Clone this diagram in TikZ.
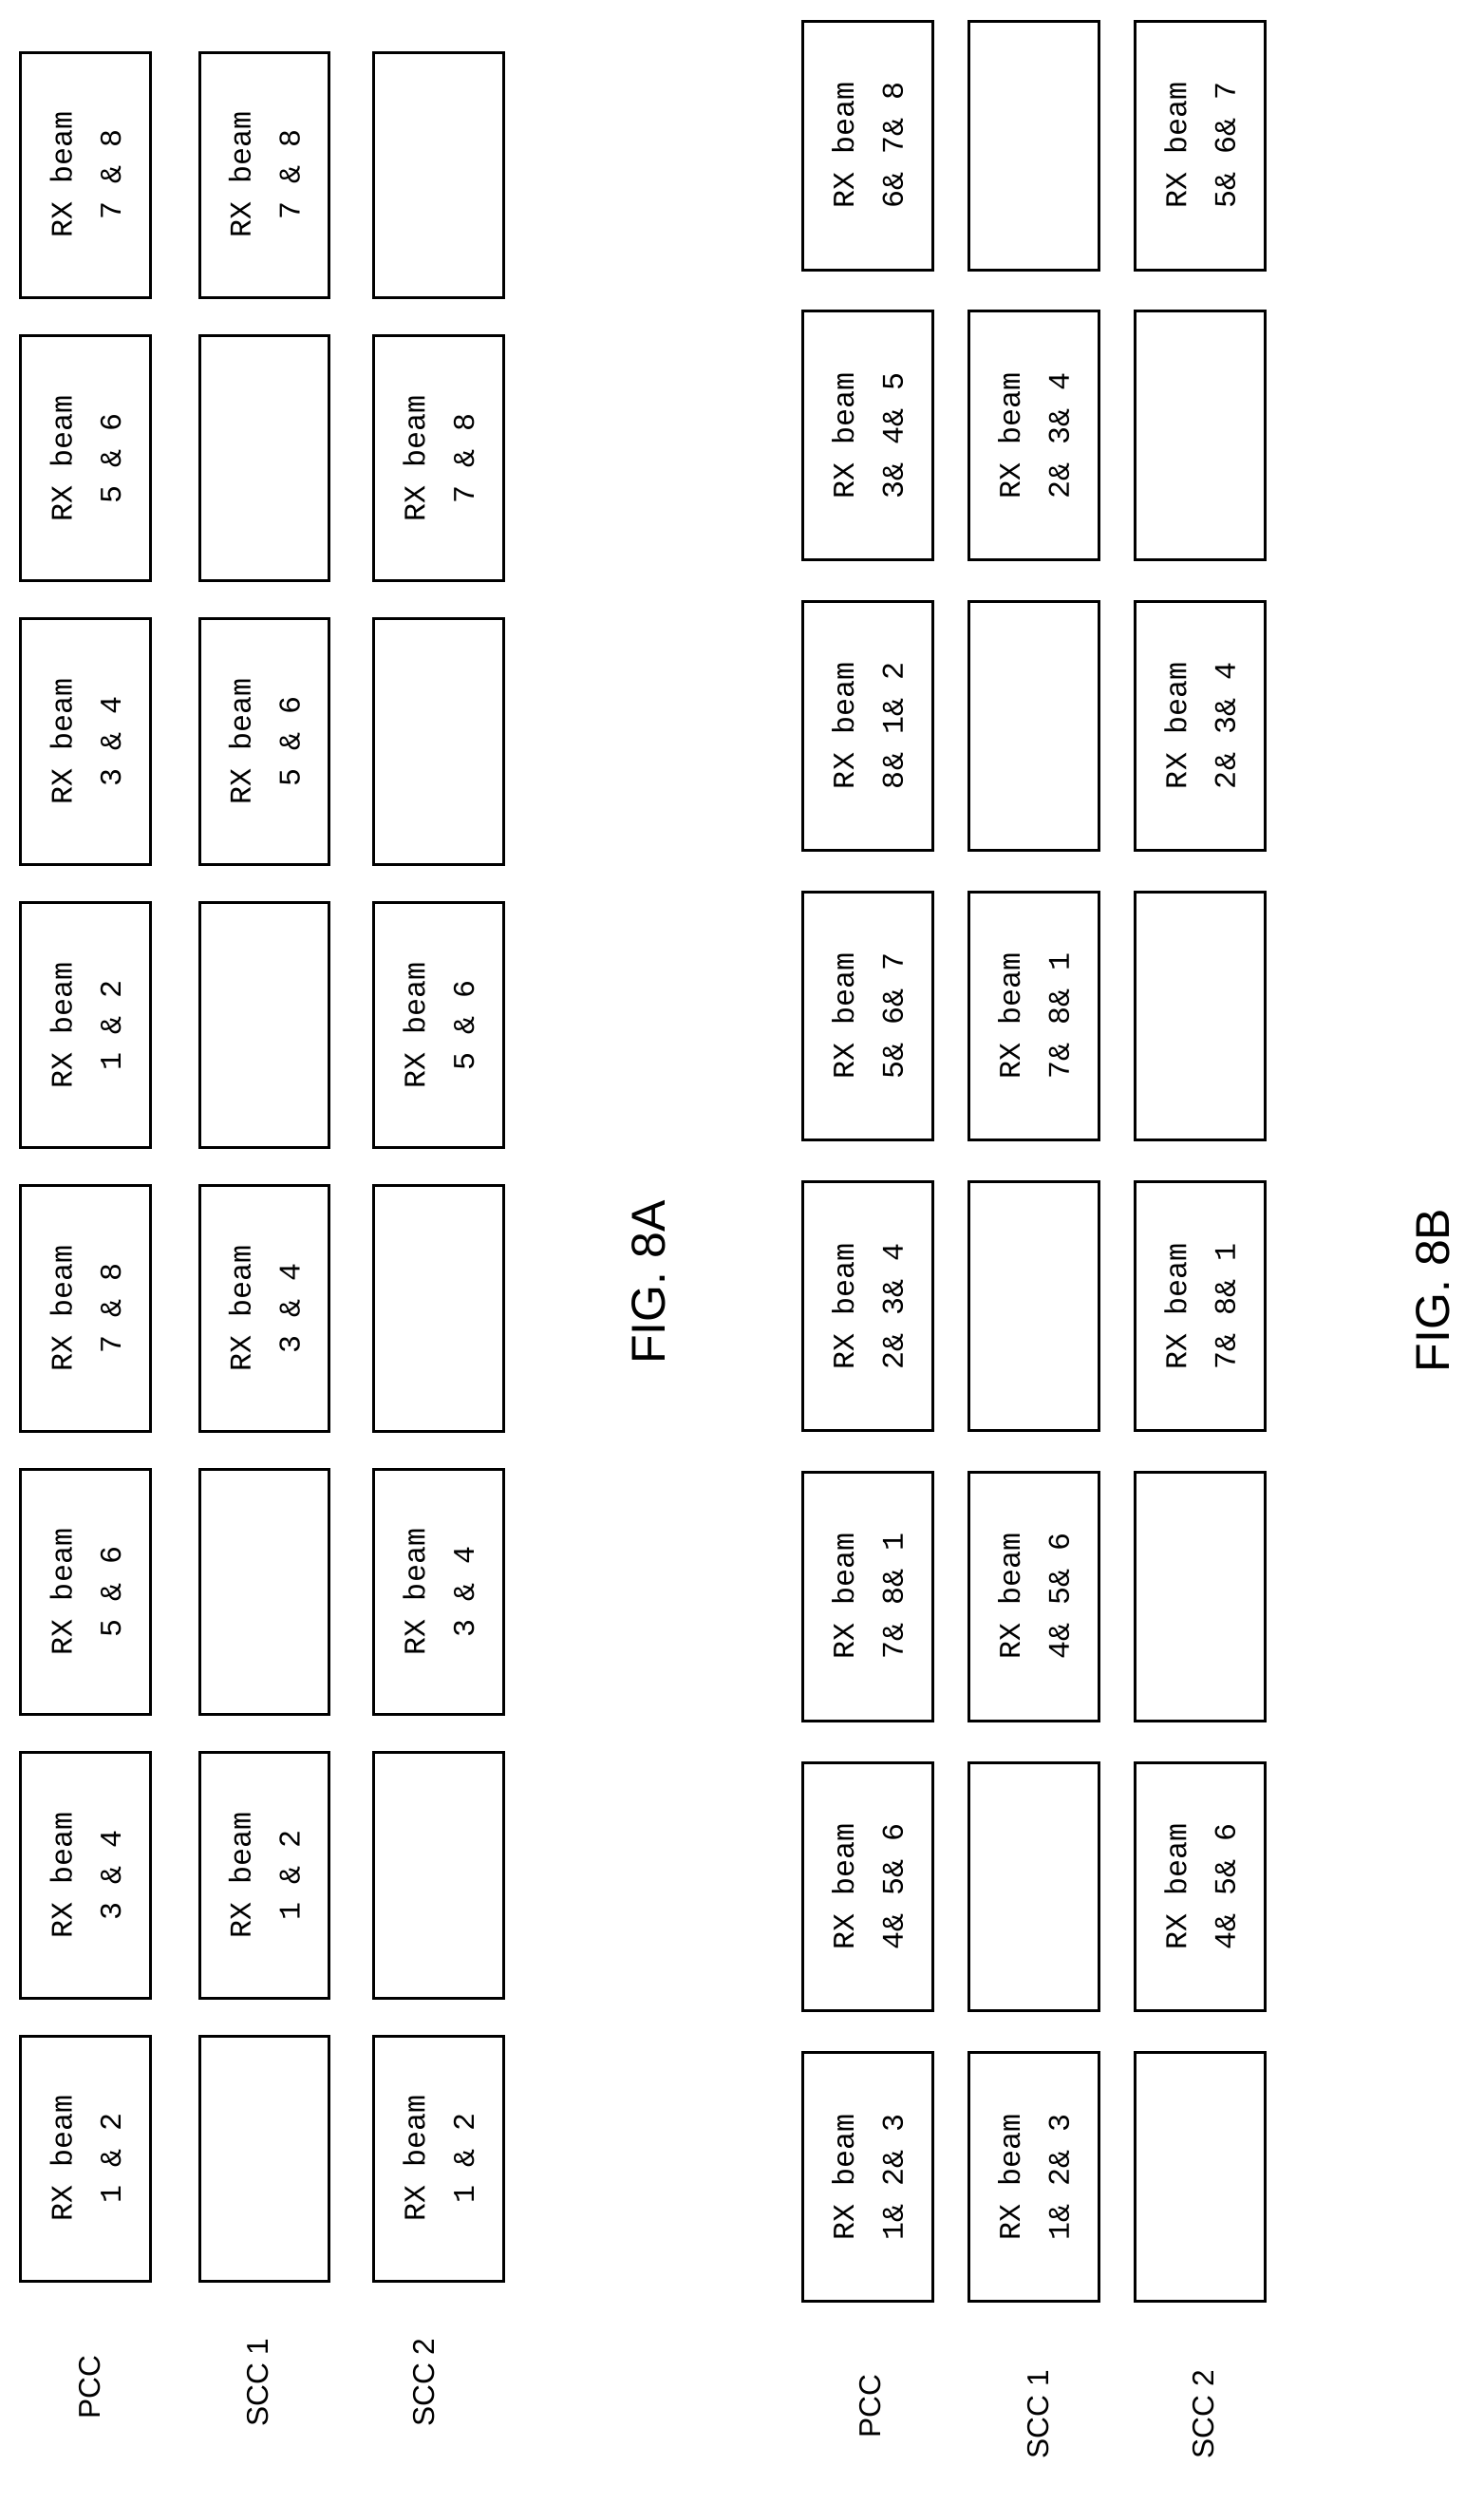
\documentclass[tikz,border=0pt]{standalone}
\usepackage{fontspec}
\setmainfont{Liberation Sans}
\newfontfamily\boxfont{Liberation Mono}
\begin{document}
\begin{tikzpicture}[x=1pt,y=-1pt,
  bx/.style={draw,line width=1.8pt,minimum width=82pt,anchor=center},
  btxt/.style={rotate=90,font=\boxfont\fontsize{19}{31}\selectfont,align=center},
  lab/.style={rotate=90,font=\fontsize{19}{22}\selectfont},
  fig/.style={rotate=90,font=\fontsize{30}{34}\selectfont}]
\useasboundingbox (0,0) rectangle (937,1581);
% FIG 8A
\def\A{{"1 \& 2","3 \& 4","5 \& 6","7 \& 8","1 \& 2","3 \& 4","5 \& 6","7 \& 8"}}
\foreach \t [count=\i] in {1 \& 2,3 \& 4,5 \& 6,7 \& 8,1 \& 2,3 \& 4,5 \& 6,7 \& 8}{
  \node[bx,minimum height=155pt] (pa\i) at (54,{1363.5-179*(\i-1)}) {};
  \node[btxt] (tpa\i) at (pa\i) {RX beam\\\t};}
\foreach \t [count=\i] in {,1 \& 2,,3 \& 4,,5 \& 6,,7 \& 8}{
  \node[bx,minimum height=155pt] (sa\i) at (167,{1363.5-179*(\i-1)}) {};
  \ifx\t\empty\else\node[btxt] (tsa\i) at (sa\i) {RX beam\\\t};\fi}
\foreach \t [count=\i] in {1 \& 2,,3 \& 4,,5 \& 6,,7 \& 8,}{
  \node[bx,minimum height=155pt] (ua\i) at (277,{1363.5-179*(\i-1)}) {};
  \ifx\t\empty\else\node[btxt] (tua\i) at (ua\i) {RX beam\\\t};\fi}
\node[lab] (l1) at (57,1508) {PCC};
\node[lab] (l2) at (163,1505) {SCC 1};
\node[lab] (l3) at (268,1505) {SCC 2};
\node[fig] (f1) at (410,810) {FIG. 8A};
% FIG 8B
\foreach \t [count=\i] in {1\& 2\& 3,4\& 5\& 6,7\& 8\& 1,2\& 3\& 4,5\& 6\& 7,8\& 1\& 2,3\& 4\& 5,6\& 7\& 8}{
  \node[bx,minimum height=157pt] (pb\i) at (548,{1375-183.3*(\i-1)}) {};
  \node[btxt] (tpb\i) at (pb\i) {RX beam\\\t};}
\foreach \t [count=\i] in {1\& 2\& 3,,4\& 5\& 6,,7\& 8\& 1,,2\& 3\& 4,}{
  \node[bx,minimum height=157pt] (sb\i) at (653,{1375-183.3*(\i-1)}) {};
  \ifx\t\empty\else\node[btxt] (tsb\i) at (sb\i) {RX beam\\\t};\fi}
\foreach \t [count=\i] in {,4\& 5\& 6,,7\& 8\& 1,,2\& 3\& 4,,5\& 6\& 7}{
  \node[bx,minimum height=157pt] (ub\i) at (758,{1375-183.3*(\i-1)}) {};
  \ifx\t\empty\else\node[btxt] (tub\i) at (ub\i) {RX beam\\\t};\fi}
\node[lab] (m1) at (550,1520) {PCC};
\node[lab] (m2) at (656,1525) {SCC 1};
\node[lab] (m3) at (760,1525) {SCC 2};
\node[fig] (f2) at (905,815) {FIG. 8B};
\end{tikzpicture}
\end{document}
